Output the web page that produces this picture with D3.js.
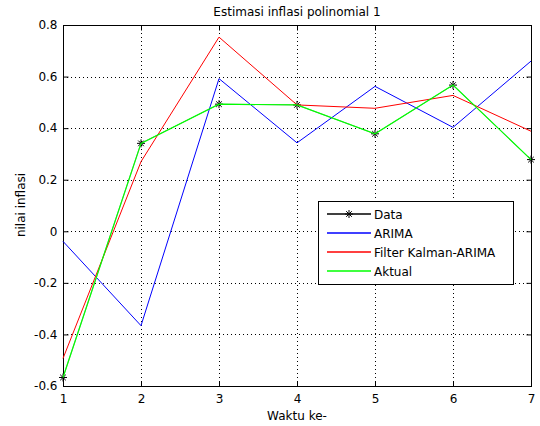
<!DOCTYPE html>
<html><head><meta charset="utf-8">
<script src="https://cdn.jsdelivr.net/npm/d3@7"></script>
<style>body{margin:0;background:#fff}svg{display:block}text{font-family:"DejaVu Sans",sans-serif}</style>
</head><body><svg id="c" width="540" height="426"></svg>
<script>
const xVals = [1,2,3,4,5,6,7];
const dataSeries = [-0.567,0.341,0.493,0.49,0.378,0.567,0.278];
const arima = [-0.039,-0.366,0.592,0.343,0.562,0.403,0.66];
const kalman = [-0.493,0.27,0.753,0.49,0.477,0.527,0.388];
const aktual = [-0.567,0.341,0.493,0.49,0.378,0.567,0.278];
const yTicks = [-0.6,-0.4,-0.2,0,0.2,0.4,0.6,0.8];
const legendLabels = ["Data","ARIMA","Filter Kalman-ARIMA","Aktual"];

const FONT = "DejaVu Sans, sans-serif";
const FS = 12;
const svg = d3.select("#c");
const L=63,R=531,T=25,B=386;
const x = d3.scaleLinear().domain([1,7]).range([L,R]);
const y = d3.scaleLinear().domain([-0.6,0.8]).range([B,T]);

// grid
const g = svg.append("g");
g.selectAll(".gx").data(xVals.slice(1,-1)).join("line")
  .attr("x1",d=>x(d)+0.5).attr("x2",d=>x(d)+0.5).attr("y1",T).attr("y2",B)
  .attr("stroke","#000").attr("stroke-width",1).attr("stroke-dasharray","1,3");
g.selectAll(".gy").data(yTicks.slice(1,-1)).join("line")
  .attr("y1",d=>Math.round(y(d))+0.5).attr("y2",d=>Math.round(y(d))+0.5).attr("x1",L).attr("x2",R)
  .attr("stroke","#000").attr("stroke-width",1).attr("stroke-dasharray","1,3");

// axes
const fmtY = d => d===0 ? "0" : d3.format(".1f")(d).replace("\u2212","-");
const xAxis = d3.axisBottom(x).tickValues(xVals).tickFormat(d3.format("d")).tickSizeInner(-5).tickSizeOuter(0).tickPadding(8);
const yAxis = d3.axisLeft(y).tickValues(yTicks).tickFormat(fmtY).tickSizeInner(-5).tickSizeOuter(0).tickPadding(6);
const xa = svg.append("g").attr("transform",`translate(0,${B+0.5})`).call(xAxis);
const ya = svg.append("g").attr("transform",`translate(${L+0.5},0)`).call(yAxis);
const xaT = svg.append("g").attr("transform",`translate(0,${T+0.5})`).call(d3.axisTop(x).tickValues(xVals).tickFormat("").tickSizeInner(-5).tickSizeOuter(0));
const yaR = svg.append("g").attr("transform",`translate(${R+0.5},0)`).call(d3.axisRight(y).tickValues(yTicks).tickFormat("").tickSizeInner(-5).tickSizeOuter(0));
[xa,ya,xaT,yaR].forEach(a=>{a.select(".domain").remove();a.selectAll("text").attr("font-size",FS).attr("fill","#000").attr("font-family",FONT);});
svg.append("rect").attr("x",L+0.5).attr("y",T+0.5).attr("width",R-L).attr("height",B-T).attr("fill","none").attr("stroke","#000");

const line = d3.line().x((d,i)=>x(xVals[i])).y(d=>y(d));
const plot = svg.append("g");
function star(sel, cx, cy, r){
  const p = d3.path();
  p.moveTo(cx-r,cy);p.lineTo(cx+r,cy);
  p.moveTo(cx,cy-r);p.lineTo(cx,cy+r);
  const k=r*0.7;
  p.moveTo(cx-k,cy-k);p.lineTo(cx+k,cy+k);
  p.moveTo(cx-k,cy+k);p.lineTo(cx+k,cy-k);
  sel.append("path").attr("d",p.toString()).attr("stroke","#000").attr("stroke-width",1).attr("fill","none");
}
plot.append("path").datum(dataSeries).attr("d",line).attr("fill","none").attr("stroke","#000").attr("stroke-width",0.4);
dataSeries.forEach((d,i)=>star(plot,x(xVals[i]),y(d),4));
plot.append("path").datum(arima).attr("d",line).attr("fill","none").attr("stroke","#0000ff");
plot.append("path").datum(kalman).attr("d",line).attr("fill","none").attr("stroke","#ff0000");
plot.append("path").datum(aktual).attr("d",line).attr("fill","none").attr("stroke","#00ff00").attr("stroke-width",1.2);

// legend
const lg = svg.append("g");
lg.append("rect").attr("x",318.5).attr("y",201.5).attr("width",195).attr("height",83).attr("fill","#fff").attr("stroke","#000");
const lc = ["#000","#0000ff","#ff0000","#00ff00"];
legendLabels.forEach((t,i)=>{
  const yy = 214+i*19;
  lg.append("line").attr("x1",327).attr("x2",371).attr("y1",yy).attr("y2",yy).attr("stroke",lc[i]).attr("stroke-width",1.5);
  if(i===0) star(lg,349,yy,4);
  lg.append("text").attr("x",374).attr("y",yy+4.5).attr("font-size",FS).attr("font-family",FONT).text(t);
});

svg.append("text").attr("x",297).attr("y",16).attr("text-anchor","middle").attr("font-size",FS).attr("font-family",FONT).text("Estimasi inflasi polinomial 1");
svg.append("text").attr("x",297).attr("y",420).attr("text-anchor","middle").attr("font-size",FS).attr("font-family",FONT).text("Waktu ke-");
svg.append("text").attr("transform","translate(25,205) rotate(-90)").attr("text-anchor","middle").attr("font-size",FS).attr("font-family",FONT).text("nilai inflasi");
</script></body></html>
